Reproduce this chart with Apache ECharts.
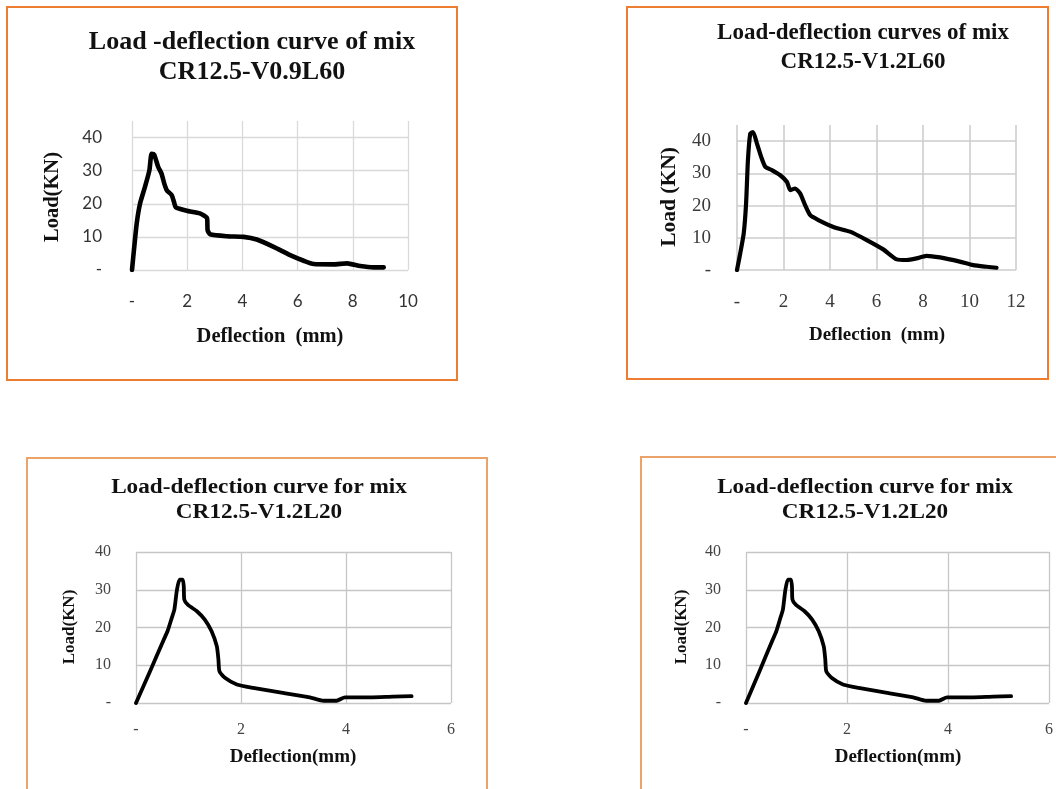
<!DOCTYPE html>
<html><head><meta charset="utf-8">
<script src="https://cdn.jsdelivr.net/npm/echarts@6/dist/echarts.min.js"></script>
<style>html,body{margin:0;padding:0;background:#fff}#c{width:1056px;height:789px}</style>
</head><body><div id="c"></div>
<script>
// ---- data ----
const titles = [
  'Load -deflection curve of mix\nCR12.5-V0.9L60',
  'Load-deflection curves of mix\nCR12.5-V1.2L60',
  'Load-deflection curve for mix\nCR12.5-V1.2L20',
  'Load-deflection curve for mix\nCR12.5-V1.2L20'
];
const yNames = ['Load(KN)', 'Load (KN)', 'Load(KN)', 'Load(KN)'];
const xNames = ['Deflection  (mm)', 'Deflection  (mm)', 'Deflection(mm)', 'Deflection(mm)'];
const zeroLabel = '-';
const xMax = [10, 12, 6, 6];
const xStep = [2, 2, 2, 2];
const yMax = [45, 45, 40, 40];
const yStep = [10, 10, 10, 10];

const v09L60Deflection = [0, 0.07, 0.17, 0.29, 0.47, 0.63, 0.71, 0.80, 0.95, 1.07, 1.17, 1.26, 1.44, 1.52, 1.59, 1.98, 2.46, 2.72, 2.74, 2.83, 3.43, 4.04, 4.52, 5.13, 5.73, 6.22, 6.58, 7.3, 7.79, 8.27, 8.75, 9.12];
const v09L60Load = [0, 6, 14, 20, 25.1, 30.1, 35.1, 34.9, 31.1, 29.1, 26.1, 24.1, 22.6, 20.6, 18.9, 17.9, 17.1, 15.6, 12.0, 10.8, 10.2, 10.0, 9.2, 7.0, 4.5, 2.8, 1.8, 1.7, 2.0, 1.2, 0.8, 0.8];

const v12L60Deflection = [0, 0.14, 0.29, 0.39, 0.47, 0.57, 0.69, 0.86, 1.04, 1.22, 1.5, 1.86, 2.15, 2.29, 2.5, 2.72, 2.93, 3.15, 3.5, 4.2, 4.86, 5.58, 6.29, 6.87, 7.3, 7.72, 8.15, 8.73, 9.58, 10.16, 10.73, 11.16];
const v12L60Load = [0, 5.2, 11.4, 20.6, 34, 42.3, 42.8, 39.2, 35.1, 32, 31, 29.4, 27.3, 24.8, 25.3, 23.7, 20.1, 17, 15.5, 13.2, 11.9, 9.3, 6.4, 3.3, 3.1, 3.6, 4.4, 3.9, 2.6, 1.5, 1.0, 0.7];

const v12L20Deflection = [0, 0.27, 0.52, 0.6, 0.68, 0.73, 0.78, 0.83, 0.89, 0.91, 0.92, 0.99, 1.16, 1.31, 1.44, 1.54, 1.57, 1.59, 1.7, 1.92, 2.23, 2.74, 3.31, 3.57, 3.82, 3.98, 4.46, 4.9, 5.25];
const v12L20Load = [0, 8.5, 16.5, 19, 22.5, 24.7, 30, 32.7, 32.7, 30.9, 27.4, 26, 24.3, 22.1, 19, 15, 11.5, 8.4, 6.6, 4.9, 4.0, 2.8, 1.5, 0.6, 0.6, 1.5, 1.5, 1.7, 1.8];

const seriesX = [v09L60Deflection, v12L60Deflection, v12L20Deflection, v12L20Deflection];
const seriesY = [v09L60Load, v12L60Load, v12L20Load, v12L20Load];

// ---- layout / style ----
const grids = [
  {left: 132, top: 121, width: 276, height: 149},
  {left: 737, top: 125, width: 279, height: 145},
  {left: 136, top: 552, width: 315, height: 151},
  {left: 746, top: 552, width: 305, height: 151}
];
const tickFont = [
  {fontFamily: 'Lato', fontSize: 17, color: '#333'},
  {fontFamily: 'Liberation Serif', fontSize: 19, color: '#3a3a3a'},
  {fontFamily: 'Liberation Serif', fontSize: 16, color: '#444'},
  {fontFamily: 'Liberation Serif', fontSize: 16, color: '#444'}
];
const xMargin = [23, 23, 19, 19];
const yMargin = [30, 26, 25, 25];
const gridColor = ['#d9d9d9', '#cdcdcd', '#c6c6c6', '#c6c6c6'];
const gridW = [1.3, 1.6, 1.3, 1.3];
const lineW = [4.6, 4.2, 3.8, 3.8];
// [x, y, fontSize, lineHeight, scaleX]
const titlePos = [[252, 57.5, 26, 30, 1], [863, 47.5, 23, 29, 1], [259, 500, 20, 25, 1.16], [865, 500, 20, 25, 1.16]];
const yNamePos = [[53, 197, 20.5], [669, 197, 21.5], [70, 627, 17], [682, 627, 17]];
const xNamePos = [[270, 337, 20.5], [877, 335, 19], [293, 757, 19], [898, 757, 19]];
const frames = [
  {x: 7, y: 7, w: 450, h: 373, c: '#ED7D31'},
  {x: 627, y: 7, w: 421, h: 372, c: '#ED7D31'},
  {x: 27, y: 458, w: 460, h: 360, c: '#EBA36A'},
  {x: 641, y: 457, w: 440, h: 360, c: '#EBA36A'}
];

const fmt = v => (v === 0 ? zeroLabel : String(v));
const option = {
  animation: false,
  backgroundColor: '#fff',
  grid: grids.map(g => Object.assign({containLabel: false}, g)),
  xAxis: grids.map((g, i) => ({
    type: 'value', gridIndex: i, min: 0, max: xMax[i], interval: xStep[i],
    axisLine: {show: false}, axisTick: {show: false},
    axisLabel: Object.assign({formatter: fmt, margin: xMargin[i]}, tickFont[i]),
    splitLine: {show: true, lineStyle: {color: gridColor[i], width: gridW[i]}}
  })),
  yAxis: grids.map((g, i) => ({
    type: 'value', gridIndex: i, min: 0, max: yMax[i], interval: yStep[i],
    axisLine: {show: false}, axisTick: {show: false},
    axisLabel: Object.assign({formatter: fmt, margin: yMargin[i], showMaxLabel: yMax[i] % yStep[i] === 0}, tickFont[i]),
    splitLine: {show: true, showMaxLine: yMax[i] % yStep[i] === 0, lineStyle: {color: gridColor[i], width: gridW[i]}}
  })),
  series: seriesX.map((xs, i) => ({
    type: 'line', xAxisIndex: i, yAxisIndex: i, showSymbol: false, smooth: 0.2,
    lineStyle: {color: '#000', width: lineW[i], join: 'round', cap: 'round'},
    data: xs.map((x, k) => [x, seriesY[i][k]])
  })),
  graphic: [].concat(
    frames.map(f => ({type: 'rect', shape: {x: f.x, y: f.y, width: f.w, height: f.h}, style: {fill: null, stroke: f.c, lineWidth: 2}, z: 10})),
    titles.map((t, i) => ({type: 'text', x: titlePos[i][0], y: titlePos[i][1], scaleX: titlePos[i][4], style: {text: t, align: 'center', verticalAlign: 'middle', fontFamily: 'Liberation Serif', fontWeight: 'bold', fontSize: titlePos[i][2], lineHeight: titlePos[i][3], fill: '#111'}})),
    yNames.map((t, i) => ({type: 'text', x: yNamePos[i][0], y: yNamePos[i][1], rotation: Math.PI / 2, style: {text: t, align: 'center', verticalAlign: 'middle', fontFamily: 'Liberation Serif', fontWeight: 'bold', fontSize: yNamePos[i][2], fill: '#111'}})),
    xNames.map((t, i) => ({type: 'text', x: xNamePos[i][0], y: xNamePos[i][1], style: {text: t, align: 'center', verticalAlign: 'middle', fontFamily: 'Liberation Serif', fontWeight: 'bold', fontSize: xNamePos[i][2], fill: '#111'}}))
  )
};
const chart = echarts.init(document.getElementById('c'), null, {renderer: 'canvas'});
chart.setOption(option);
</script></body></html>
